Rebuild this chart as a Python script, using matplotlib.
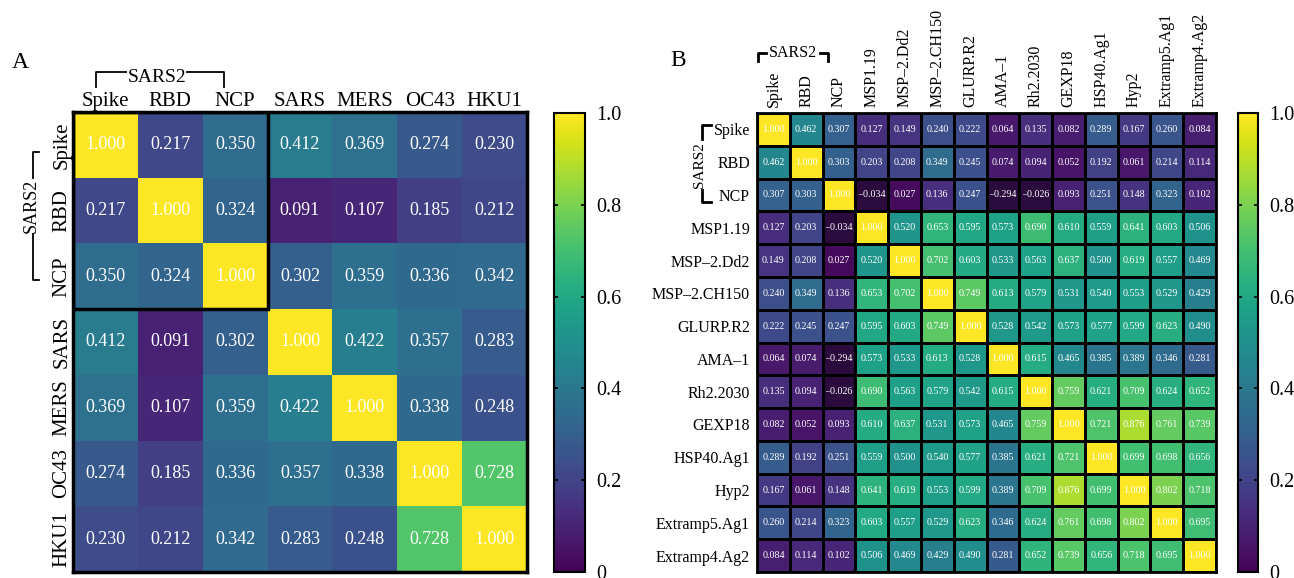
import numpy as np
import matplotlib
matplotlib.use("Agg")
import matplotlib.pyplot as plt
from matplotlib import transforms
from matplotlib.colors import Normalize
import matplotlib.cm as cm

plt.rcParams['font.family'] = ['Liberation Serif', 'DejaVu Serif']

# ---------------- data ----------------
labels_a = ["Spike", "RBD", "NCP", "SARS", "MERS", "OC43", "HKU1"]
corr_a = [
    [1.000, 0.217, 0.350, 0.412, 0.369, 0.274, 0.230],
    [0.217, 1.000, 0.324, 0.091, 0.107, 0.185, 0.212],
    [0.350, 0.324, 1.000, 0.302, 0.359, 0.336, 0.342],
    [0.412, 0.091, 0.302, 1.000, 0.422, 0.357, 0.283],
    [0.369, 0.107, 0.359, 0.422, 1.000, 0.338, 0.248],
    [0.274, 0.185, 0.336, 0.357, 0.338, 1.000, 0.728],
    [0.230, 0.212, 0.342, 0.283, 0.248, 0.728, 1.000],
]

labels_b = ["Spike", "RBD", "NCP", "MSP1.19", "MSP\u20132.Dd2", "MSP\u20132.CH150",
            "GLURP.R2", "AMA\u20131", "Rh2.2030", "GEXP18", "HSP40.Ag1", "Hyp2",
            "Extramp5.Ag1", "Extramp4.Ag2"]
corr_b = [
    [1.000, 0.462, 0.307, 0.127, 0.149, 0.240, 0.222, 0.064, 0.135, 0.082, 0.289, 0.167, 0.260, 0.084],
    [0.462, 1.000, 0.303, 0.203, 0.208, 0.349, 0.245, 0.074, 0.094, 0.052, 0.192, 0.061, 0.214, 0.114],
    [0.307, 0.303, 1.000, -0.034, 0.027, 0.136, 0.247, -0.294, -0.026, 0.093, 0.251, 0.148, 0.323, 0.102],
    [0.127, 0.203, -0.034, 1.000, 0.520, 0.653, 0.595, 0.573, 0.690, 0.610, 0.559, 0.641, 0.603, 0.506],
    [0.149, 0.208, 0.027, 0.520, 1.000, 0.702, 0.603, 0.533, 0.563, 0.637, 0.500, 0.619, 0.557, 0.469],
    [0.240, 0.349, 0.136, 0.653, 0.702, 1.000, 0.749, 0.613, 0.579, 0.531, 0.540, 0.553, 0.529, 0.429],
    [0.222, 0.245, 0.247, 0.595, 0.603, 0.749, 1.000, 0.528, 0.542, 0.573, 0.577, 0.599, 0.623, 0.490],
    [0.064, 0.074, -0.294, 0.573, 0.533, 0.613, 0.528, 1.000, 0.615, 0.465, 0.385, 0.389, 0.346, 0.281],
    [0.135, 0.094, -0.026, 0.690, 0.563, 0.579, 0.542, 0.615, 1.000, 0.759, 0.621, 0.709, 0.624, 0.652],
    [0.082, 0.052, 0.093, 0.610, 0.637, 0.531, 0.573, 0.465, 0.759, 1.000, 0.721, 0.876, 0.761, 0.739],
    [0.289, 0.192, 0.251, 0.559, 0.500, 0.540, 0.577, 0.385, 0.621, 0.721, 1.000, 0.699, 0.698, 0.656],
    [0.167, 0.061, 0.148, 0.641, 0.619, 0.553, 0.599, 0.389, 0.709, 0.876, 0.699, 1.000, 0.802, 0.718],
    [0.260, 0.214, 0.323, 0.603, 0.557, 0.529, 0.623, 0.346, 0.624, 0.761, 0.698, 0.802, 1.000, 0.695],
    [0.084, 0.114, 0.102, 0.506, 0.469, 0.429, 0.490, 0.281, 0.652, 0.739, 0.656, 0.718, 0.695, 1.000],
]
group_label = "SARS2"
group_size = 3
cbar_ticks = [0, 0.2, 0.4, 0.6, 0.8, 1.0]
cbar_ticklabels = ["0", "0.2", "0.4", "0.6", "0.8", "1.0"]

# ---------------- figure ----------------
W, H = 1294, 578
fig = plt.figure(figsize=(W / 100, H / 100), dpi=100)

def px(x0, y0, x1, y1):
    return [x0 / W, 1 - y1 / H, (x1 - x0) / W, (y1 - y0) / H]

cmap = matplotlib.colormaps['viridis'].copy()
cmap.set_under('#2b0b3d')
norm = Normalize(vmin=0, vmax=1)

def fmt(v):
    s = f"{v:.3f}"
    return s.replace("-", "\u2013")

def heatmap(ax, data, labels, ann_fs, edge_lw, edge_col):
    data = np.array(data)
    n = len(labels)
    ax.pcolormesh(np.arange(n + 1), np.arange(n + 1), data, cmap=cmap, norm=norm,
                  edgecolors=edge_col, linewidth=edge_lw)
    ax.set_xlim(0, n)
    ax.set_ylim(n, 0)
    for i in range(n):
        for j in range(n):
            ax.text(j + 0.5, i + 0.5, fmt(data[i, j]), ha='center', va='center',
                    color='white', fontsize=ann_fs)
    ax.set_xticks(np.arange(n) + 0.5)
    ax.set_yticks(np.arange(n) + 0.5)
    ax.xaxis.tick_top()
    ax.tick_params(length=0)
    return data

def cbar(cax, fs):
    cb = fig.colorbar(cm.ScalarMappable(norm=norm, cmap=cmap), cax=cax)
    cb.set_ticks(cbar_ticks)
    cb.set_ticklabels(cbar_ticklabels)
    cb.ax.tick_params(direction='in', left=True, right=True, length=3, width=1.2,
                      labelsize=fs, pad=8)
    cb.outline.set_linewidth(1.5)
    return cb

# ---------------- Panel A ----------------
axA = fig.add_axes(px(73, 112, 527, 572))
heatmap(axA, corr_a, labels_a, 13, 0.0, 'face')
axA.set_xticklabels(labels_a, fontsize=15)
axA.set_yticklabels(labels_a, fontsize=15, rotation=90, va='center')
axA.tick_params(axis='x', pad=1)
axA.tick_params(axis='y', pad=1)
for s in axA.spines.values():
    s.set_linewidth(2.5)
axA.add_patch(plt.Rectangle((0, 0), group_size, group_size, fill=False, lw=2.5,
                            edgecolor='black', zorder=5))
cbar(fig.add_axes(px(554, 113, 585, 572)), 14.5)

# top bracket A
tA = transforms.blended_transform_factory(axA.transData, axA.transAxes)
xa0, xa1, ya, yb = 0.35, 2.33, 1.086, 1.054
axA.plot([xa0, xa0, 0.82], [yb, ya, ya], color='black', lw=1.3, transform=tA, clip_on=False)
axA.plot([1.76, xa1, xa1], [ya, ya, yb], color='black', lw=1.3, transform=tA, clip_on=False)
axA.text(1.29, 1.074, group_label, transform=tA, ha='center', va='center', fontsize=14)
# left bracket A
lA = transforms.blended_transform_factory(axA.transAxes, axA.transData)
xl, xh = -0.088, -0.074
axA.plot([xh, xl, xl], [0.61, 0.61, 1.0], color='black', lw=1.3, transform=lA, clip_on=False)
axA.plot([xl, xl, xh], [1.86, 2.56, 2.56], color='black', lw=1.3, transform=lA, clip_on=False)
axA.text(xl - 0.004, 1.43, group_label, transform=lA, ha='center', va='center', rotation=90,
         fontsize=13)

fig.text(12 / W, 1 - 62 / H, "A", fontsize=17, ha='left', va='center')

# ---------------- Panel B ----------------
axB = fig.add_axes(px(757, 113, 1216, 572))
heatmap(axB, corr_b, labels_b, 7.2, 0.8, 'black')
axB.set_xticklabels(labels_b, fontsize=11.5, rotation=90, va='bottom')
axB.set_yticklabels(labels_b, fontsize=11.5)
axB.tick_params(axis='x', pad=4)
axB.tick_params(axis='y', pad=5)
for s in axB.spines.values():
    s.set_linewidth(2.0)
axB.add_patch(plt.Rectangle((0, 0), group_size, group_size, fill=False, lw=2.2,
                            edgecolor='black', zorder=5))
cbar(fig.add_axes(px(1238, 113, 1258, 572)), 14.5)

tB = transforms.blended_transform_factory(axB.transData, axB.transAxes)
xb0, xb1, yt, ytk = 0.04, 2.16, 1.131, 1.114
axB.plot([xb0, xb0, 0.28], [ytk, yt, yt], color='black', lw=2.0, transform=tB, clip_on=False)
axB.plot([1.92, xb1, xb1], [yt, yt, ytk], color='black', lw=2.0, transform=tB, clip_on=False)
axB.text(1.10, yt, group_label, transform=tB, ha='center', va='center', fontsize=11.5)

lB = transforms.blended_transform_factory(axB.transAxes, axB.transData)
xlb, xhb = -0.119, -0.100
axB.plot([xhb, xlb, xlb], [0.37, 0.37, 0.80], color='black', lw=2.0, transform=lB, clip_on=False)
axB.plot([xlb, xlb, xhb], [2.36, 2.71, 2.71], color='black', lw=2.0, transform=lB, clip_on=False)
axB.text(xlb - 0.006, 1.58, group_label, transform=lB, ha='center', va='center', rotation=90,
         fontsize=11)

fig.text(670 / W, 1 - 60 / H, "B", fontsize=17, ha='left', va='center')

fig.savefig("out.png", dpi=100)
